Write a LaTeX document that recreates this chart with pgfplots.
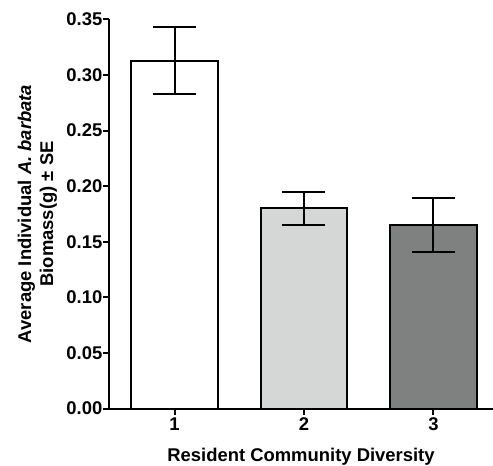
\documentclass[border=0pt]{standalone}
\usepackage{fontspec}
\setmainfont{Liberation Sans}
\usepackage{pgfplots}
\pgfplotsset{compat=1.18}
\definecolor{barlight}{RGB}{213,214,214}
\definecolor{bardark}{RGB}{127,128,128}
\begin{document}
\begin{tikzpicture}
\useasboundingbox (-109bp,-57.5bp) rectangle (384bp,408.5bp);
\begin{axis}[
  at={(0,0)}, anchor=south west,
  scale only axis,
  width=384bp, height=389bp,
  xmin=0.494, xmax=3.46,
  ymin=0, ymax=0.35,
  clip=false,
  axis x line*=bottom, axis y line*=left,
  axis line style={-, line width=2bp, black},
  xtick={1,2,3},
  ytick={0,0.05,0.10,0.15,0.20,0.25,0.30,0.35},
  yticklabel style={/pgf/number format/fixed, /pgf/number format/fixed zerofill, /pgf/number format/precision=2, inner xsep=0.5bp},
  /pgf/number format/assume math mode=true,
  tick align=outside,
  major tick length=6bp,
  tick style={black, line width=2bp},
  tick label style={font=\fontsize{18.5}{20}\selectfont\bfseries},
  ybar, bar width=86.5bp, bar shift=0pt,
  xlabel={Resident Community Diversity},
  xlabel style={font=\fontsize{18.5}{20}\selectfont\bfseries, at={(axis description cs:0.5,0)}, anchor=base, yshift=-53bp},
  ylabel={Average Individual \textit{A. barbata}\\Biomass(g) ± SE},
  ylabel style={font=\fontsize{18.5}{22}\selectfont\bfseries, align=center, at={(axis description cs:-0.135,0.5)}, anchor=south, inner sep=0pt},
  error bars/y dir=both, error bars/y explicit,
  error bars/error mark=|,
  error bars/error bar style={line width=2bp, black},
  error bars/error mark options={black, line width=2bp, mark size=21.5bp},
]
\addplot[draw=black, line width=2bp, fill=white] coordinates {(1,0.313) +- (0,0.030)};
\addplot[draw=black, line width=2bp, fill=barlight] coordinates {(2,0.180) +- (0,0.0145)};
\addplot[draw=black, line width=2bp, fill=bardark] coordinates {(3,0.165) +- (0,0.0245)};
\end{axis}
\end{tikzpicture}
\end{document}
